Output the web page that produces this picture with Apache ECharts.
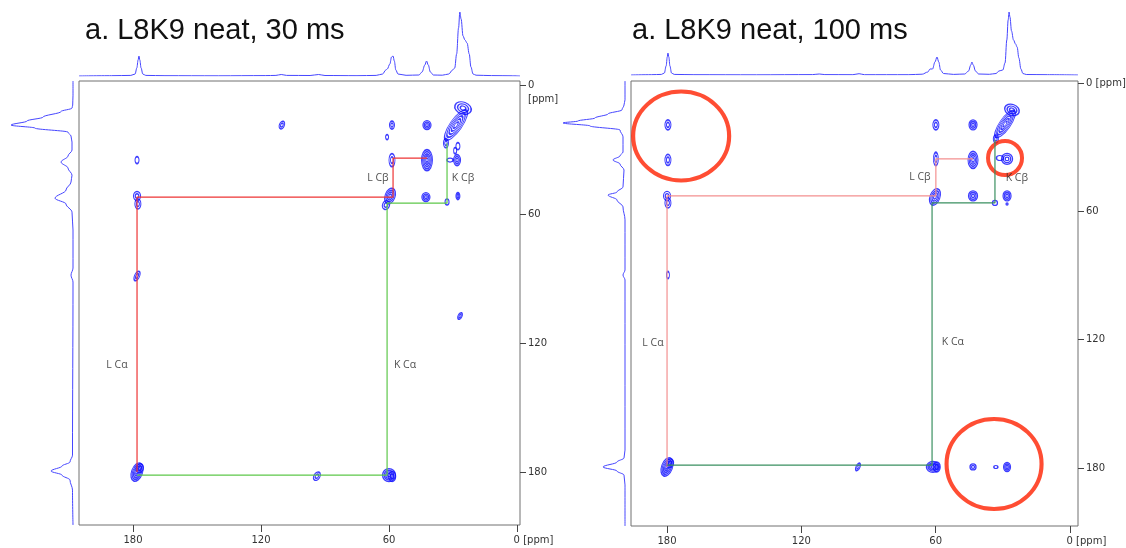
<!DOCTYPE html>
<html>
<head>
<meta charset="utf-8">
<title>L8K9 neat</title>
<script src="https://cdn.jsdelivr.net/npm/echarts@6/dist/echarts.min.js"></script>
<style>
    html, body { margin: 0; padding: 0; background: #fff; }
    #chart { width: 1126px; height: 548px; }
</style>
</head>
<body>
<div id="chart"></div>
<script>
'use strict';

var panelTitles = ['a. L8K9 neat, 30 ms', 'a. L8K9 neat, 100 ms'];
var tickValues = [180, 120, 60, 0];

// 1D projections, [ppm, intensity]
var topProj30 = [
    [205.3, 0], [190, 0.3], [181, 0.6], [179, 2], [178.2, 8], [177.6, 16], [177.2, 20], [176.8, 16], [176.2, 8],
    [175.4, 2], [174, 0.6], [165, 0.3], [140, 0.2], [118, 0.4], [113, 0.6], [110.5, 1.5], [108, 0.6], [97, 0.5],
    [93, 1.5], [90, 0.5], [75, 0.3], [66, 0.6], [63, 2], [61.5, 6], [60.8, 7], [59.6, 12], [58.8, 19], [58.1, 20],
    [57.5, 15], [56.8, 6], [55.8, 2], [52, 0.7], [46, 1], [44.5, 4], [43.2, 11], [42.4, 15], [41.6, 11], [40.6, 4],
    [39.2, 1], [35, 0.8], [32, 2], [30.2, 6], [29.2, 8], [28.3, 22], [27.4, 48], [26.8, 64], [26.2, 57], [25.3, 40],
    [24.4, 36], [23.4, 33], [22.4, 22], [21.6, 9], [20.6, 2], [19.2, 0.8], [12, 0.4], [2, 0.2], [-1.4, 0]
];
var sideProj30 = [
    [-1.9, 0], [4.7, 0], [9.3, 0.3], [10.7, 1], [12.3, 12], [14.9, 30], [16.7, 46], [18.6, 62], [20.0, 38],
    [21.9, 5], [23.7, 2], [26.5, 1], [30.2, 1], [33.0, 5], [35.8, 12], [38.6, 5], [41.9, 1], [45.1, 2], [48.8, 7],
    [52.6, 18], [55.3, 7], [59.1, 1], [67.4, 0], [85.1, 0], [88.4, 2], [91.6, 0], [172.1, 0.5], [175.3, 3],
    [177.2, 11], [179.5, 22], [181.4, 11], [183.7, 3], [188.4, 0.5], [204.6, 0]
];
var topProj100 = [
    [196.1, 0], [187, 0.3], [182.5, 0.6], [181.2, 2], [180.4, 9], [179.9, 18], [179.6, 22], [179.2, 18], [178.7, 9],
    [178, 2], [176.8, 0.6], [168, 0.3], [140, 0.2], [115, 0.4], [112, 1], [109.5, 0.4], [97, 0.3], [94.2, 1.3],
    [91.8, 0.3], [72, 0.3], [66, 0.8], [63.5, 3], [62.5, 6], [61.4, 6], [60.3, 13], [59.4, 18], [58.6, 13], [57.8, 5],
    [56.5, 1.5], [52, 0.6], [47, 1], [45.3, 4], [44.3, 10], [43.8, 13], [43.2, 10], [42.2, 4], [40.8, 1], [36, 0.7],
    [33, 1.5], [31.7, 4], [30, 5], [29, 12], [28.2, 35], [27.6, 55], [27.2, 63], [26.8, 58], [26.1, 44], [25.2, 35],
    [24.3, 31], [23.6, 28], [22.8, 17], [21.9, 6], [21, 1.5], [19.5, 0.5], [10, 0.3], [-3.6, 0]
];
var sideProj100 = [
    [-0.9, 0], [7.9, 0], [10.3, 1], [12.6, 3], [14.5, 17], [16.4, 30], [17.8, 47], [18.7, 62], [20.1, 35],
    [22.0, 5], [25.2, 2], [32.3, 2], [34.1, 5], [36.0, 12], [37.9, 5], [40.7, 1], [48.6, 2], [51.0, 8], [52.4, 17],
    [54.7, 8], [58.0, 2], [64.0, 0], [87.4, 0], [89.8, 2], [92.1, 0], [171.6, 0], [175.3, 1], [177.2, 8],
    [179.5, 22], [181.4, 8], [183.3, 1], [187.9, 0], [207.1, 0]
];

// cross peaks, [ppm F2, ppm F1]
var peaks30 = [
    [110.2, 18.6], [178.1, 34.9], [178.1, 51.6], [177.7, 55.3], [178.1, 88.8], [178.1, 180.0], [176.8, 178.2],
    [93.8, 181.9], [60.0, 181.4], [58.5, 182.0], [58.6, 18.6], [60.9, 24.2], [42.2, 18.6],
    [25.3, 10.7], [28.6, 18.6], [33.3, 27.0], [27.7, 28.4],
    [58.6, 34.9], [42.2, 34.9], [28.1, 34.9], [31.4, 34.9], [29.0, 30.5],
    [59.5, 51.6], [61.4, 55.8], [42.7, 52.1], [32.8, 54.4], [27.7, 51.6], [26.7, 107.4]
];
var peaks100 = [
    [179.6, 19.6], [179.6, 36.0], [180.0, 52.8], [179.6, 56.1], [179.6, 89.8], [180.0, 179.5], [178.7, 177.8],
    [94.7, 179.5], [61.2, 179.5], [59.5, 179.5], [43.3, 179.5], [33.1, 179.5], [28.1, 179.5],
    [59.9, 19.6], [43.3, 19.6],
    [25.9, 12.6], [29.0, 19.2], [33.1, 26.2],
    [59.9, 35.5], [43.3, 36.0], [28.1, 35.5], [31.3, 35.1],
    [60.3, 53.3], [43.3, 52.8], [33.5, 56.1], [28.1, 52.8], [28.1, 56.6]
];

// assignment walks, [ppm F2, ppm F1]
var red30 = [[42.2, 34.0], [58.1, 34.0], [58.1, 52.1], [178.1, 52.1], [178.1, 180.0]];
var green30 = [[178.1, 181.4], [60.9, 181.4], [60.9, 54.9], [32.8, 54.9], [32.8, 27.0]];
var red100 = [[43.3, 35.5], [59.9, 35.5], [59.9, 52.8], [180.0, 52.8], [180.0, 179.5]];
var green100 = [[180.0, 178.6], [61.6, 178.6], [61.6, 56.1], [33.5, 56.1], [33.5, 26.6]];

var labelNames = ['L Cβ', 'K Cβ', 'L Cα', 'K Cα'];
var labelPos30 = [[65.2, 43.3], [25.3, 43.3], [187.5, 130.2], [52.5, 130.2]];
var labelPos100 = [[67.0, 43.9], [23.7, 44.4], [186.3, 121.6], [52.3, 121.1]];

// highlighted new cross peaks in the 100 ms spectrum
var circles100 = [[173.7, 24.8], [29.0, 35.1], [33.9, 178.1]];

// contour look per peak: [width px, height px, rotation, levels]
var shapes30 = [
    [5, 8, -20, 2], [4, 7, 0, 1], [7, 9, 0, 2], [6, 10, 0, 2], [5, 10, -25, 2], [11, 19, -20, 5], [7, 9, -20, 2],
    [6, 9, -30, 2], [13, 13, 0, 4], [7, 10, 0, 2], [5, 8, 0, 2], [3, 5, 0, 1], [8, 9, 0, 3],
    [17, 12, -20, 3], [12, 36, -35, 5], [5, 9, 0, 2], [4, 7, 0, 1],
    [6, 13, 0, 2], [11, 21, 0, 5], [7, 11, 0, 3], [6, 4, 0, 1], [3, 6, 0, 1],
    [10, 16, -20, 4], [7, 9, -20, 2], [8, 9, 0, 3], [4, 6, 0, 1], [4, 7, 0, 2], [4, 7, -25, 2]
];
var shapes100 = [
    [6, 10, 0, 2], [6, 11, 0, 2], [7, 9, 0, 2], [6, 10, 0, 2], [3, 7, 0, 1], [11, 19, -20, 5], [7, 9, -20, 2],
    [4, 8, -25, 2], [13, 11, 0, 4], [7, 10, 0, 2], [6, 6, 0, 2], [4, 3, 0, 1], [7, 9, 0, 3],
    [6, 10, 0, 2], [8, 10, 0, 3],
    [15, 11, -20, 3], [11, 32, -35, 5], [5, 8, 0, 2],
    [5, 13, 0, 2], [10, 17, 0, 4], [11, 11, 0, 3], [7, 5, 0, 1],
    [10, 17, -20, 4], [9, 10, 0, 3], [5, 5, 0, 1], [8, 10, 0, 3], [2, 2, 0, 1]
];
var circleSizes100 = [[96, 89], [34, 34], [95, 90]];

var panels = [
    {
        title: panelTitles[0], titleLeft: 85,
        main: {left: 79, top: 81, width: 441, height: 444},
        top: {left: 79, top: 5, width: 441, height: 71},
        side: {left: 5, top: 81, width: 68, height: 444},
        xRange: [-1.4, 205.3], yRange: [-1.9, 204.6], topMax: 71, sideMax: 68,
        topProj: topProj30, sideProj: sideProj30, peaks: peaks30, shapes: shapes30,
        red: red30, green: green30, redColor: '#ee3434', greenColor: '#5ec84a',
        labelPos: labelPos30, circles: [], circleSizes: [], stackedZero: true
    },
    {
        title: panelTitles[1], titleLeft: 632,
        main: {left: 631, top: 81, width: 447, height: 445},
        top: {left: 631, top: 5, width: 447, height: 70},
        side: {left: 560, top: 81, width: 65, height: 445},
        xRange: [-3.6, 196.1], yRange: [-0.9, 207.1], topMax: 70, sideMax: 65,
        topProj: topProj100, sideProj: sideProj100, peaks: peaks100, shapes: shapes100,
        red: red100, green: green100, redColor: '#f39090', greenColor: '#3a9060',
        labelPos: labelPos100, circles: circles100, circleSizes: circleSizes100, stackedZero: false
    }
];

var FONT = 'DejaVu Sans';
var BLUE = '#0c0cff';

function contourItems(peaks, shapes) {
    var items = [];
    peaks.forEach(function (p, i) {
        var s = shapes[i];
        for (var k = 0; k < s[3]; k++) {
            var f = (s[3] - k) / s[3];
            items.push({
                value: p,
                symbolSize: [Math.max(2, s[0] * f), Math.max(2, s[1] * f)],
                symbolRotate: s[2]
            });
        }
    });
    return items;
}

function buildOption() {
    var option = {
        animation: false,
        backgroundColor: '#ffffff',
        title: [], grid: [], xAxis: [], yAxis: [], series: []
    };

    panels.forEach(function (p) {
        var g = option.grid.length;

        option.title.push({
            text: p.title, left: p.titleLeft, top: 16, padding: 0,
            textStyle: {fontSize: 29, fontWeight: 'normal', fontFamily: 'Liberation Sans', color: '#111'}
        });

        // keep the frames where the figure has them, labels may run to the page edge
        var fixed = {outerBoundsMode: 'none', containLabel: false};
        option.grid.push(Object.assign({show: true, borderColor: '#707070', borderWidth: 1, backgroundColor: 'transparent'}, fixed, p.main));
        option.grid.push(Object.assign({show: false}, fixed, p.top));
        option.grid.push(Object.assign({show: false}, fixed, p.side));

        option.xAxis.push({
            gridIndex: g, type: 'value', min: p.xRange[0], max: p.xRange[1], inverse: true,
            axisLine: {show: false, onZero: false}, splitLine: {show: false},
            axisTick: {show: true, inside: false, customValues: tickValues, length: 7, lineStyle: {color: '#444'}},
            axisLabel: {
                customValues: tickValues, margin: 10, color: '#333', fontFamily: FONT, fontSize: 10,
                formatter: function (v) {
                    return v === 0 ? '{pad| }{n|0}{u| [ppm]}' : '{n|' + v + '}';
                },
                rich: {
                    pad: {width: 33, fontSize: 10, fontFamily: FONT},
                    n: {fontSize: 10, fontFamily: FONT, color: '#333'},
                    u: {fontSize: 10, fontFamily: FONT, color: '#333'}
                }
            }
        });
        option.yAxis.push({
            gridIndex: g, type: 'value', position: 'right', min: p.yRange[0], max: p.yRange[1], inverse: true,
            axisLine: {show: false, onZero: false}, splitLine: {show: false},
            axisTick: {show: true, inside: false, customValues: tickValues, length: 6, lineStyle: {color: '#444'}},
            axisLabel: {
                customValues: tickValues, margin: 8, color: '#333', fontFamily: FONT, fontSize: 10,
                formatter: function (v) {
                    if (v !== 0) {
                        return '{n|' + v + '}';
                    }
                    return p.stackedZero ? '{pad| }\n{n|0}\n{n|[ppm]}' : '{n|0 [ppm]}';
                },
                rich: {
                    pad: {fontSize: 10, lineHeight: 14, fontFamily: FONT},
                    n: {fontSize: 10, lineHeight: 14, fontFamily: FONT, color: '#333'}
                }
            }
        });

        option.xAxis.push({gridIndex: g + 1, type: 'value', min: p.xRange[0], max: p.xRange[1], inverse: true, show: false});
        option.yAxis.push({gridIndex: g + 1, type: 'value', min: 0, max: p.topMax, show: false});
        option.xAxis.push({gridIndex: g + 2, type: 'value', min: 0, max: p.sideMax, inverse: true, show: false});
        option.yAxis.push({gridIndex: g + 2, type: 'value', min: p.yRange[0], max: p.yRange[1], inverse: true, show: false});

        option.series.push({
            type: 'line', xAxisIndex: g + 1, yAxisIndex: g + 1, data: p.topProj,
            symbol: 'none', smooth: 0.35, smoothMonotone: 'x', silent: true,
            lineStyle: {color: '#4646ff', width: 1}
        });
        option.series.push({
            type: 'line', xAxisIndex: g + 2, yAxisIndex: g + 2,
            data: p.sideProj.map(function (d) { return [d[1], d[0]]; }),
            symbol: 'none', smooth: 0.35, smoothMonotone: 'y', silent: true,
            lineStyle: {color: '#4646ff', width: 1}
        });

        option.series.push({
            type: 'line', xAxisIndex: g, yAxisIndex: g, data: p.red,
            symbol: 'none', silent: true, lineStyle: {color: p.redColor, width: 1.2}
        });
        option.series.push({
            type: 'line', xAxisIndex: g, yAxisIndex: g, data: p.green,
            symbol: 'none', silent: true, lineStyle: {color: p.greenColor, width: 1.2}
        });

        option.series.push({
            type: 'scatter', xAxisIndex: g, yAxisIndex: g, symbol: 'circle', silent: true,
            data: contourItems(p.peaks, p.shapes),
            itemStyle: {color: 'rgba(0,0,0,0)', borderColor: BLUE, borderWidth: 1.3}
        });

        option.series.push({
            type: 'scatter', xAxisIndex: g, yAxisIndex: g, symbolSize: 1, silent: true,
            data: p.labelPos.map(function (pos, i) { return {name: labelNames[i], value: pos}; }),
            itemStyle: {color: 'rgba(0,0,0,0)'},
            label: {show: true, position: 'inside', formatter: '{b}', fontSize: 10.5, fontFamily: 'Open Sans', color: '#222'}
        });

        if (p.circles.length) {
            option.series.push({
                type: 'scatter', xAxisIndex: g, yAxisIndex: g, symbol: 'circle', silent: true,
                data: p.circles.map(function (c, i) { return {value: c, symbolSize: p.circleSizes[i]}; }),
                itemStyle: {color: 'rgba(0,0,0,0)', borderColor: '#ff2000', borderWidth: 4}
            });
        }
    });

    return option;
}

var chart = echarts.init(document.getElementById('chart'), null, {renderer: 'canvas'});
chart.setOption(buildOption());
</script>
</body>
</html>
